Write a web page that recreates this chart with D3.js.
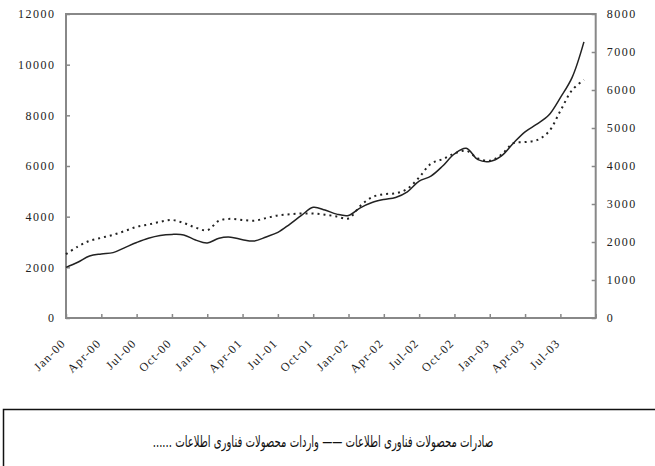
<!DOCTYPE html>
<html>
<head>
<meta charset="utf-8">
<script src="https://cdn.jsdelivr.net/npm/d3@7/dist/d3.min.js"></script>
<style>
  body { margin: 0; background: #fff; }
  .axis text { font-family: "Liberation Serif", "Times New Roman", serif; font-size: 12px; fill: #222; }
  .axis line { stroke: #888; stroke-width: 1.5; }
  .axis path { display: none; }
</style>
</head>
<body>
<div class="chart"></div>
<script>
// months on the category axis (axis runs one slot past the last value)
var months = ["Jan-00","Feb-00","Mar-00","Apr-00","May-00","Jun-00","Jul-00","Aug-00","Sep-00","Oct-00","Nov-00","Dec-00",
              "Jan-01","Feb-01","Mar-01","Apr-01","May-01","Jun-01","Jul-01","Aug-01","Sep-01","Oct-01","Nov-01","Dec-01",
              "Jan-02","Feb-02","Mar-02","Apr-02","May-02","Jun-02","Jul-02","Aug-02","Sep-02","Oct-02","Nov-02","Dec-02",
              "Jan-03","Feb-03","Mar-03","Apr-03","May-03","Jun-03","Jul-03","Aug-03","Sep-03","Oct-03"];

var tickLabels = ["Jan-00","Apr-00","Jul-00","Oct-00","Jan-01","Apr-01","Jul-01","Oct-01",
                  "Jan-02","Apr-02","Jul-02","Oct-02","Jan-03","Apr-03","Jul-03"];

// solid line, left axis
var exportsVals = [2000,2200,2450,2530,2580,2780,2980,3150,3260,3300,3280,3080,
                   2960,3150,3190,3090,3040,3200,3380,3700,4050,4370,4260,4100,
                   4050,4350,4560,4680,4760,4980,5400,5600,6000,6480,6700,6250,
                   6180,6400,6900,7350,7650,8000,8700,9500,10900];

// dotted line, right axis
var importsVals = [1680,1880,2030,2110,2190,2290,2400,2460,2530,2580,2500,2380,
                   2310,2560,2610,2580,2560,2630,2700,2730,2750,2750,2720,2670,
                   2620,2950,3180,3260,3280,3400,3700,4060,4180,4330,4400,4200,
                   4140,4300,4600,4630,4680,4900,5450,6000,6270];

var leftTicks = [0,2000,4000,6000,8000,10000,12000];
var rightTicks = [0,1000,2000,3000,4000,5000,6000,7000,8000];

var seriesNames = ["صادرات محصولات فناوری اطلاعات", "واردات محصولات فناوری اطلاعات"];

var W = 655, H = 466;
var plot = {left: 66, right: 595.7, top: 14, bottom: 318};

var svg = d3.select(".chart").append("svg")
  .attr("width", W)
  .attr("height", H);

var xScale = d3.scalePoint().domain(months).range([plot.left, plot.right]);
var yLeft = d3.scaleLinear().domain([0, 12000]).range([plot.bottom, plot.top]);
var yRight = d3.scaleLinear().domain([0, 8000]).range([plot.bottom, plot.top]);

var xAxis = d3.axisBottom(xScale)
  .tickValues(months.filter((d,i)=>{ return i%3==0; }))
  .tickSizeInner(-4).tickSizeOuter(0)
  .tickFormat((d)=>{ return tickLabels.indexOf(d) >= 0 ? d : ""; });

var gx = svg.append("g")
  .attr("class","x axis")
  .attr("transform","translate(0,"+plot.bottom+")")
  .call(xAxis);

gx.selectAll("text")
  .attr("y", 0)
  .attr("dy", "0.35em")
  .attr("transform", "translate(-3,23) rotate(-45)")
  .attr("text-anchor", "end")
  .style("letter-spacing", "1.2px");

svg.append("g")
  .attr("class","y axis")
  .attr("transform","translate("+plot.left+",0)")
  .call(d3.axisLeft(yLeft).tickValues(leftTicks).tickFormat(d3.format("d"))
    .tickSizeInner(-4).tickSizeOuter(0).tickPadding(10.5))
  .selectAll("text").style("letter-spacing","1.5px");

svg.append("g")
  .attr("class","y axis")
  .attr("transform","translate("+plot.right+",0)")
  .call(d3.axisRight(yRight).tickValues(rightTicks).tickFormat(d3.format("d"))
    .tickSizeInner(-4).tickSizeOuter(0).tickPadding(11))
  .selectAll("text").style("letter-spacing","1.5px");

// plot frame
svg.append("rect")
  .attr("x", plot.left)
  .attr("y", plot.top)
  .attr("width", plot.right - plot.left)
  .attr("height", plot.bottom - plot.top)
  .attr("fill", "none")
  .attr("stroke", "#888")
  .attr("stroke-width", 2);

var lineLeft = d3.line()
  .x((d,i)=>{ return xScale(months[i]); })
  .y((d)=>{ return yLeft(d); })
  .curve(d3.curveCatmullRom.alpha(0.5));

var lineRight = d3.line()
  .x((d,i)=>{ return xScale(months[i]); })
  .y((d)=>{ return yRight(d); })
  .curve(d3.curveCatmullRom.alpha(0.5));

svg.append("path")
  .datum(importsVals)
  .attr("fill","none")
  .attr("stroke","#222")
  .attr("stroke-width",2)
  .attr("stroke-dasharray","2,4")
  .attr("d", lineRight);

svg.append("path")
  .datum(exportsVals)
  .attr("fill","none")
  .attr("stroke","#222")
  .attr("stroke-width",1.5)
  .attr("d", lineLeft);

// legend box
svg.append("rect")
  .attr("x", 3.5)
  .attr("y", 409.5)
  .attr("width", 660)
  .attr("height", 70)
  .attr("fill", "none")
  .attr("stroke", "#111")
  .attr("stroke-width", 1.5);

svg.append("text")
  .attr("transform", "translate(323,447) scale(0.7,1)")
  .attr("direction", "rtl")
  .attr("text-anchor", "middle")
  .style("font-family", "'DejaVu Sans Condensed', 'DejaVu Sans', sans-serif")
  .style("font-size", "16px")
  .style("fill", "#111")
  .text(seriesNames[0] + " —— " + seriesNames[1] + " ......");
</script>
</body>
</html>
